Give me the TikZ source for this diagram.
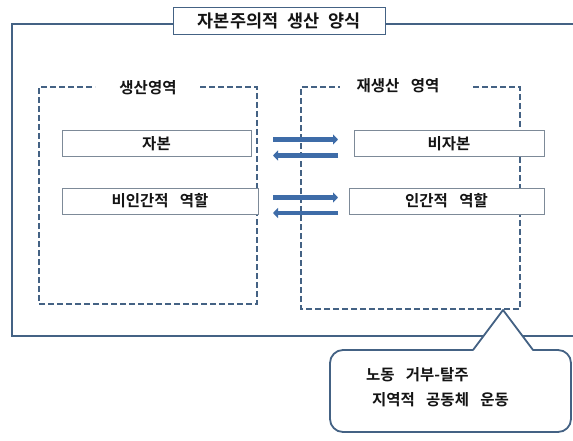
\documentclass[tikz,border=0pt]{standalone}
\usepackage{fontspec}
\setmainfont[WordSpace=3.2,BoldFont={Noto Sans CJK KR Bold}]{Noto Sans CJK KR}
\usetikzlibrary{arrows.meta}
\definecolor{frameC}{RGB}{68,98,132}
\definecolor{arrC}{RGB}{62,108,168}
\definecolor{boxC}{RGB}{125,138,152}
\definecolor{txtC}{RGB}{20,20,20}
\tikzset{
  inbox/.style={draw=boxC, line width=1pt, fill=white, minimum height=26pt, inner sep=0pt, font=\fontsize{15.5}{15.5}\selectfont\bfseries, text=txtC},
  areadash/.style={draw=frameC, line width=1.8pt, dash pattern=on 6pt off 3pt},
  arealabel/.style={font=\fontsize{15.5}{15.5}\selectfont\bfseries, text=txtC, inner sep=0pt},
  flow/.style={draw=arrC, line width=4.5pt, -{Triangle[length=5pt,width=10pt]}},
  callouttext/.style={font=\fontsize{15.5}{15.5}\selectfont\bfseries, text=txtC, anchor=west, inner sep=0pt}
}
\begin{document}
\begin{tikzpicture}[x=1pt,y=-1pt]
\useasboundingbox (0,0) rectangle (573,441);
\fill[white] (0,0) rectangle (573,441);
% outer frame
\draw[frameC, line width=1.8pt] (12,24) rectangle (576,336);
% title
\node[draw=frameC, line width=0.9pt, fill=white, minimum width=212pt, minimum height=27pt, inner sep=0pt,
      font=\fontsize{17.5}{17.5}\selectfont\bfseries, text=txtC] (title) at (279,20.5) {자본주의적\hspace{0.5em}생산\hspace{0.5em}양식};
% production area
\draw[areadash] (200,87) -- (257,87) -- (257,304) -- (39,304) -- (39,87) -- (95,87);
\node[arealabel] (prodlabel) at (148,88) {생산영역};
% reproduction area
\draw[areadash] (473,87) -- (520,87) -- (520,309) -- (301,309) -- (301,87) -- (340,87);
\node[arealabel] (reprolabel) at (398,86) {재생산 영역};
% boxes
\node[inbox, minimum width=189pt] (cap) at (156.5,144) {자본};
\node[inbox, minimum width=190pt] (noncap) at (449,144) {비자본};
\node[inbox, minimum width=196pt] (nonhum) at (160,201) {비인간적 역할};
\node[inbox, minimum width=195pt] (hum) at (446.5,201) {인간적 역할};
% arrows
\coordinate (a1s) at (273,139.5); \coordinate (a1e) at (338,139.5);
\coordinate (a2s) at (338,155.5); \coordinate (a2e) at (273,155.5);
\coordinate (a3s) at (273,197.5); \coordinate (a3e) at (338,197.5);
\coordinate (a4s) at (338,213); \coordinate (a4e) at (273,213);
\draw[flow] (a1s) -- (a1e);
\draw[flow] (a2s) -- (a2e);
\draw[flow] (a3s) -- (a3e);
\draw[flow] (a4s) -- (a4e);
% callout
\coordinate (tip) at (503,310);
\draw[frameC, line width=1.8pt, fill=white, line join=round]
  (473,350) -- (tip) -- (533,350) [rounded corners=13pt] -- (571,350) -- (571,432) -- (330,432) -- (330,350) -- (473,350);
\node[callouttext] (c1) at (366,375) {노동 거부-탈주};
\node[callouttext] (c2) at (372,400) {지역적 공동체 운동};
\end{tikzpicture}
\end{document}
